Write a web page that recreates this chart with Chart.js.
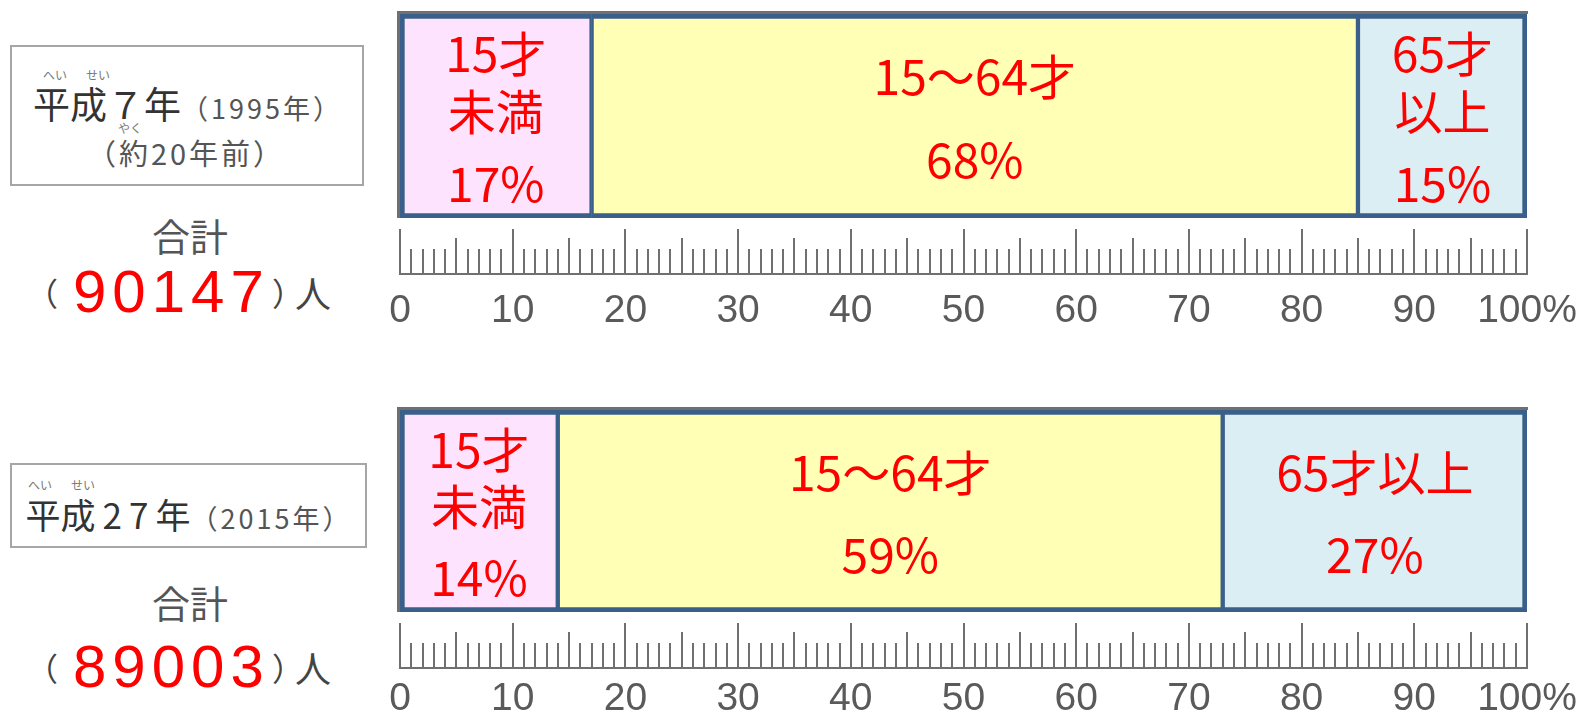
<!DOCTYPE html>
<html>
<head>
<meta charset="utf-8">
<script src="https://cdn.jsdelivr.net/npm/chart.js@4.4.1/dist/chart.umd.min.js"></script>
<style>
body { margin: 0; width: 1587px; height: 719px; background: #fff; position: relative; overflow: hidden; font-family: "Noto Sans CJK JP", sans-serif; }
canvas.c { position: absolute; left: 380px; }
.box { position: absolute; border: 2px solid #a6a6a6; box-sizing: border-box; }
.t { position: absolute; transform: translate(-50%, -50%); white-space: nowrap; color: #444; line-height: 1; }
.l { position: absolute; transform: translateY(-50%); white-space: nowrap; color: #444; line-height: 1; }
.ruby { font-size: 12px; color: #777; }
.num { font-family: "Liberation Sans", Arial, sans-serif; color: #ff0000; font-size: 60px; letter-spacing: 6px; }
.yr { font-size: 27px; letter-spacing: 3px; color: #555; }
</style>
</head>
<body>
<!-- left-hand captions -->
<div class="box" style="left:10px;top:45px;width:354px;height:141px"></div>
<div class="t ruby" style="left:55px;top:75px">へい</div>
<div class="t ruby" style="left:98px;top:75px">せい</div>
<div class="t" style="left:188px;top:103px"><span style="font-size:37px;color:#333">平成７年</span><span class="yr">（1995年）</span></div>
<div class="t ruby" style="left:130px;top:128px">やく</div>
<div class="t yr" style="left:186px;top:152px;font-size:29px">（約20年前）</div>
<div class="t" style="left:190px;top:235px;font-size:38px;color:#555">合計</div>
<div class="t" style="left:42px;top:292px;font-size:32px">（</div>
<div class="l num" style="left:73px;top:292px">90147</div>
<div class="l" style="left:272px;top:292px;font-size:32px">）</div>
<div class="l" style="left:295px;top:292px;font-size:36px">人</div>

<div class="box" style="left:10px;top:463px;width:357px;height:85px"></div>
<div class="t ruby" style="left:40px;top:485px">へい</div>
<div class="t ruby" style="left:83px;top:485px">せい</div>
<div class="t" style="left:189px;top:513px"><span style="font-size:35px;color:#333">平成<span style="letter-spacing:7px;padding-left:7px">27</span>年</span><span class="yr">（2015年）</span></div>
<div class="t" style="left:190px;top:602px;font-size:38px;color:#555">合計</div>
<div class="t" style="left:42px;top:667px;font-size:32px">（</div>
<div class="l num" style="left:73px;top:667px">89003</div>
<div class="l" style="left:272px;top:667px;font-size:32px">）</div>
<div class="l" style="left:295px;top:667px;font-size:36px">人</div>

<canvas class="c" id="bar1995" width="1207" height="340" style="top:0px"></canvas>
<canvas class="c" id="bar2015" width="1207" height="323" style="top:396px"></canvas>

<script>
// Age structure, 1995 vs 2015 (percent of total population)
const segments = ['15才未満', '15〜64才', '65才以上'];
const values1995 = [17, 68, 15];
const values2015 = [14, 59, 27];
const lines1995 = [['15才', '未満'], ['15〜64才'], ['65才', '以上']];
const lines2015 = [['15才', '未満'], ['15〜64才'], ['65才以上']];
const tickValues = [0, 10, 20, 30, 40, 50, 60, 70, 80, 90, 100];

const segColors = ['#fde3fd', '#ffffb5', '#daeef3'];
const BORDER = '#3a5f8b';
const RULER = '#707070';

// ruler under the bar: 1% minor ticks, longer at 5 and 10
const rulerPlugin = {
    id: 'ruler',
    beforeDatasetsDraw(chart) {
        // grey frame peeking out above / left of the bar
        const { ctx, chartArea: a } = chart;
        ctx.save();
        ctx.strokeStyle = RULER;
        ctx.lineWidth = 3;
        ctx.beginPath();
        ctx.moveTo(a.left - 1.5, a.bottom);
        ctx.lineTo(a.left - 1.5, a.top - 1.5);
        ctx.lineTo(a.right + 1, a.top - 1.5);
        ctx.stroke();
        ctx.restore();
    },
    afterDraw(chart) {
        const { ctx, chartArea: a } = chart;
        const x = chart.scales.x;
        const base = a.bottom + 56;
        ctx.save();
        ctx.strokeStyle = RULER;
        ctx.lineWidth = 2;
        ctx.beginPath();
        ctx.moveTo(x.getPixelForValue(0) - 1, base);
        ctx.lineTo(x.getPixelForValue(100) + 1, base);
        for (let i = 0; i <= 100; i++) {
            const len = i % 10 === 0 ? 45 : (i % 5 === 0 ? 36 : 25);
            const px = Math.round(x.getPixelForValue(i));
            ctx.moveTo(px, base);
            ctx.lineTo(px, base - len);
        }
        ctx.stroke();
        ctx.restore();
    }
};

// red captions inside each segment
const captionPlugin = {
    id: 'captions',
    afterDatasetsDraw(chart, args, opts) {
        const { ctx } = chart;
        ctx.save();
        ctx.fillStyle = '#ff0000';
        ctx.font = '48px "Noto Sans CJK JP"';
        ctx.textAlign = 'center';
        ctx.textBaseline = 'middle';
        chart.data.datasets.forEach((ds, i) => {
            const bar = chart.getDatasetMeta(i).data[0];
            const p = bar.getProps(['x', 'y', 'base', 'height'], true);
            const cx = (p.x + p.base) / 2;
            const top = p.y - p.height / 2;
            const text = opts.lines[i].concat(ds.data[0] + '%');
            const fr = text.length === 3 ? [0.195, 0.48, 0.83] : [0.31, 0.715];
            text.forEach((s, k) => ctx.fillText(s, cx, top + fr[k] * p.height));
        });
        ctx.restore();
    }
};

function makeChart(id, values, lines, axisH, padBottom, tickPad) {
    return new Chart(document.getElementById(id), {
        type: 'bar',
        data: {
            labels: [''],
            datasets: values.map((v, i) => ({
                label: segments[i],
                data: [v],
                backgroundColor: segColors[i],
                borderColor: BORDER,
                borderWidth: { top: 5, bottom: 5, left: i === 0 ? 5 : 2.5, right: i === values.length - 1 ? 5 : 2.5 },
                borderSkipped: false,
                categoryPercentage: 1,
                barPercentage: 1,
            }))
        },
        options: {
            indexAxis: 'y',
            responsive: false,
            animation: false,
            layout: { padding: { left: 20, right: 60, top: 14, bottom: padBottom } },
            plugins: { legend: { display: false }, tooltip: { enabled: false }, captions: { lines } },
            scales: {
                x: {
                    stacked: true, min: 0, max: 100,
                    grid: { display: false, drawTicks: false },
                    border: { display: false },
                    afterBuildTicks: s => { s.ticks = tickValues.map(v => ({ value: v })); },
                    afterFit: s => { s.height = axisH; s.paddingLeft = 0; s.paddingRight = 0; },
                    ticks: {
                        autoSkip: false, maxRotation: 0, padding: tickPad,
                        color: '#5a5a5a',
                        font: { family: '"Liberation Sans", sans-serif', size: 39 },
                        callback: v => v === 100 ? '100%' : String(v)
                    }
                },
                y: { stacked: true, display: false }
            }
        },
        plugins: [rulerPlugin, captionPlugin]
    });
}

makeChart('bar1995', values1995, lines1995, 110, 12, 70);
makeChart('bar2015', values2015, lines2015, 100, 7, 64);
</script>
</body>
</html>
